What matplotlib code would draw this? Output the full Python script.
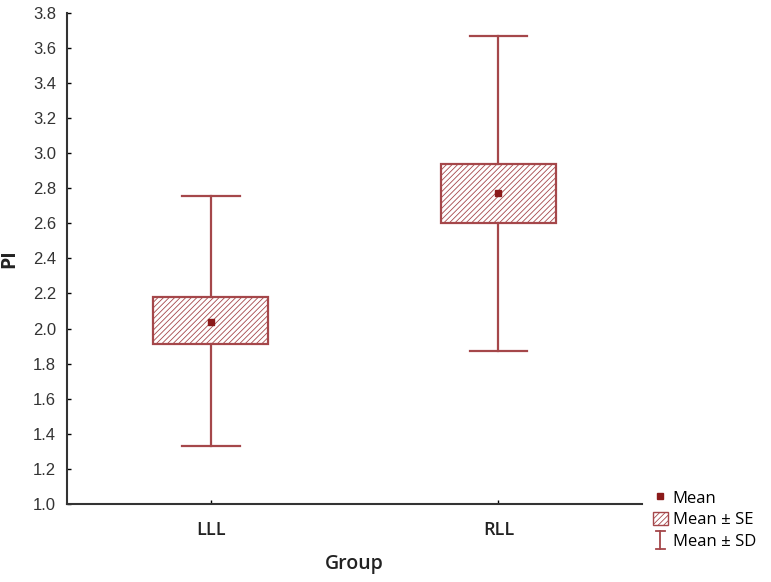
import numpy as np
import matplotlib
matplotlib.use("Agg")
import matplotlib.pyplot as plt
from matplotlib.patches import Rectangle, Patch
from matplotlib.lines import Line2D
from matplotlib.legend_handler import HandlerBase

# data
groups = ["LLL", "RLL"]
means = [2.04, 2.77]
se_low = [1.91, 2.60]
se_high = [2.18, 2.94]
sd_low = [1.33, 1.87]
sd_high = [2.755, 3.67]

edge = "#A5474A"
dark = "#8B1A1A"
plt.rcParams['hatch.linewidth'] = 0.6
plt.rcParams['hatch.color'] = edge


class SDHandler(HandlerBase):
    # draws the "I" whisker symbol of the legend
    def create_artists(self, legend, orig_handle, xdescent, ydescent, width, height, fontsize, trans):
        cx = width / 2 - xdescent
        top = height * 1.1
        bot = -height * 0.2
        c = 0.3 * width
        lines = [
            Line2D([cx, cx], [bot, top], color=edge, lw=1.3, transform=trans),
            Line2D([cx - c, cx + c], [top, top], color=edge, lw=1.3, transform=trans),
            Line2D([cx - c, cx + c], [bot, bot], color=edge, lw=1.3, transform=trans),
        ]
        return lines


fig = plt.figure(figsize=(7.71, 5.82), dpi=100)
ax = fig.add_axes([0.087, 0.134, 0.746, 0.844])

x = np.arange(len(groups))
boxW = 0.4
capW = 0.2
for i in x:
    # whisker (mean +- SD)
    ax.plot([i, i], [sd_low[i], se_low[i]], color=edge, lw=1.6)
    ax.plot([i, i], [se_high[i], sd_high[i]], color=edge, lw=1.6)
    ax.plot([i - capW/2, i + capW/2], [sd_low[i]]*2, color=edge, lw=1.6)
    ax.plot([i - capW/2, i + capW/2], [sd_high[i]]*2, color=edge, lw=1.6)
    # box (mean +- SE)
    ax.add_patch(Rectangle((i - boxW/2, se_low[i]), boxW, se_high[i] - se_low[i],
                           facecolor="white", edgecolor=edge, hatch="//////", lw=1.6))
    ax.plot(i, means[i], marker="s", color=dark, ms=4, ls="none")

ax.set_xlim(-0.5, 1.5)
ax.set_ylim(1.0, 3.8)
yt = np.arange(1.0, 3.81, 0.2)
ax.set_yticks(yt)
ax.set_yticklabels(["%.1f" % v for v in yt], family="Liberation Sans", fontsize=12, color="#333333")
ax.set_xticks(x)
ax.set_xticklabels(groups, family="Open Sans", fontsize=13, fontweight="semibold", color="#222222")
ax.tick_params(axis="y", direction="in", length=3, width=1, pad=8)
ax.tick_params(axis="x", direction="in", length=3, width=1, pad=12)
ax.spines["top"].set_visible(False)
ax.spines["right"].set_visible(False)
for s in ["left", "bottom"]:
    ax.spines[s].set_linewidth(1.5)
    ax.spines[s].set_color("#333333")

ax.set_xlabel("Group", family="Open Sans", fontsize=14, fontweight="semibold", labelpad=11, color="#222222")
ax.set_ylabel("PI", family="Open Sans", fontsize=14, fontweight="bold", labelpad=10, color="#222222")

handles = [
    Line2D([], [], marker="s", color=dark, ls="none", ms=4),
    Patch(facecolor="white", edgecolor=edge, hatch="//////"),
    "sd",
]
fig.legend(handles, ["Mean", "Mean \u00b1 SE", "Mean \u00b1 SD"],
           loc="upper left", bbox_to_anchor=(0.827, 0.184), frameon=False,
           prop={"family": "Open Sans", "size": 12}, handlelength=0.9,
           handleheight=0.9, handletextpad=0.3, labelspacing=0.3,
           handler_map={str: SDHandler()})

fig.savefig("out.png", dpi=100)
